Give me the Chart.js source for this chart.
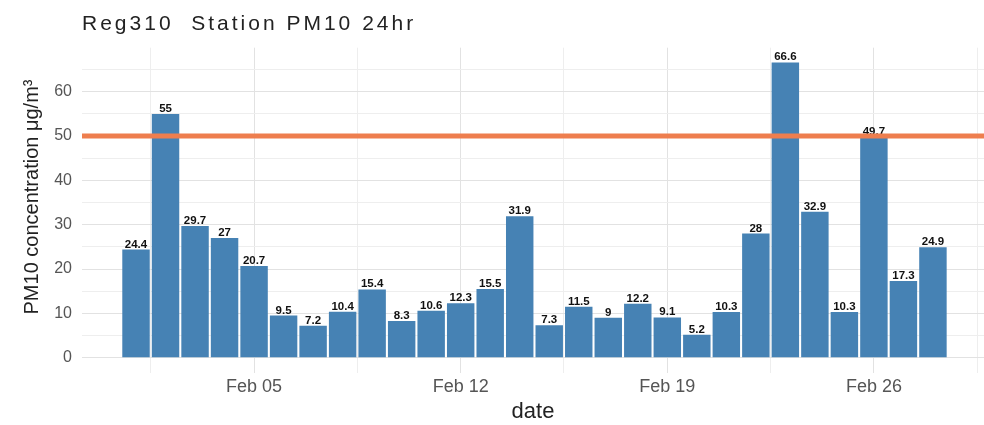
<!DOCTYPE html>
<html>
<head>
<meta charset="utf-8">
<script src="https://cdn.jsdelivr.net/npm/chart.js@4.4.1/dist/chart.umd.min.js"></script>
<style>
  html, body { margin: 0; padding: 0; background: #fff; }
  #wrap { width: 984px; height: 425px; position: relative; }
</style>
</head>
<body>
<div id="wrap"><canvas id="pm10Chart"></canvas></div>
<script>
// February, one bar per day
const days = [1, 2, 3, 4, 5, 6, 7, 8, 9, 10, 11, 12, 13, 14,
              15, 16, 17, 18, 19, 20, 21, 22, 23, 24, 25, 26, 27, 28];
const pm10 = [24.4, 55, 29.7, 27, 20.7, 9.5, 7.2, 10.4, 15.4, 8.3, 10.6, 12.3, 15.5, 31.9,
              7.3, 11.5, 9, 12.2, 9.1, 5.2, 10.3, 28, 66.6, 32.9, 10.3, 49.7, 17.3, 24.9];
const limitValue = 50;

const tickDays = [5, 12, 19, 26];
const tickLabels = ['Feb 05', 'Feb 12', 'Feb 19', 'Feb 26'];
const yTicks = [0, 5, 10, 15, 20, 25, 30, 35, 40, 45, 50, 55, 60, 65];
const yLabelEvery = 10;

const chartTitle = 'Reg310  Station PM10 24hr';
const yTitle = 'PM10 concentration \u03bcg/m\u00b3';
const xTitle = 'date';

const FONT = "'Liberation Sans', Arial, sans-serif";
Chart.defaults.font.family = FONT;

// minor grid halfway between the labelled days, like ggplot
const xGrid = [];
tickDays.forEach((d) => { xGrid.push(d - 3.5); xGrid.push(d); });
xGrid.push(tickDays[tickDays.length - 1] + 3.5);

const X_MIN = -0.83, X_MAX = 29.73;
const Y_MIN = -3.33, Y_MAX = 69.93;

const barLabels = {
  id: 'barLabels',
  afterDatasetDraw(chart, args) {
    if (args.index !== 0) return;
    const ctx = chart.ctx;
    ctx.save();
    ctx.font = 'bold 11.5px ' + FONT;
    ctx.fillStyle = '#111';
    ctx.textAlign = 'center';
    ctx.textBaseline = 'alphabetic';
    args.meta.data.forEach((bar, i) => {
      ctx.fillText(String(pm10[i]), bar.x, bar.y - 2);
    });
    ctx.restore();
  }
};

const titles = {
  id: 'titles',
  afterDraw(chart) {
    const ctx = chart.ctx;
    ctx.save();
    ctx.fillStyle = '#222';
    ctx.font = '21px ' + FONT;
    ctx.textAlign = 'left';
    ctx.textBaseline = 'alphabetic';
    if ('letterSpacing' in ctx) ctx.letterSpacing = '3px';
    ctx.fillText(chartTitle, 82, 30);
    if ('letterSpacing' in ctx) ctx.letterSpacing = '0px';

    ctx.translate(32, 197);
    ctx.rotate(-Math.PI / 2);
    ctx.font = '20px ' + FONT;
    ctx.textAlign = 'center';
    ctx.textBaseline = 'middle';
    ctx.fillText(yTitle, 0, 0);
    ctx.restore();
  }
};

const chart = new Chart(document.getElementById('pm10Chart'), {
  type: 'bar',
  data: {
    datasets: [
      {
        type: 'bar',
        label: 'PM10',
        data: days.map((d, i) => ({ x: d, y: pm10[i] })),
        backgroundColor: '#4682B4',
        borderWidth: 0,
        barPercentage: 0.93,
        categoryPercentage: 1,
        order: 2
      },
      {
        type: 'line',
        label: 'limit',
        data: [{ x: X_MIN, y: limitValue }, { x: X_MAX, y: limitValue }],
        borderColor: '#EE7E4E',
        borderWidth: 5,
        pointRadius: 0,
        fill: false,
        order: 1
      }
    ]
  },
  options: {
    responsive: true,
    maintainAspectRatio: false,
    animation: false,
    layout: { padding: { top: 47.7, left: 0, right: 0, bottom: 0 } },
    plugins: {
      legend: { display: false },
      tooltip: { enabled: false },
      title: { display: false, text: chartTitle }
    },
    scales: {
      x: {
        type: 'linear',
        min: X_MIN,
        max: X_MAX,
        offset: false,
        afterBuildTicks: (scale) => { scale.ticks = xGrid.map((v) => ({ value: v })); },
        afterFit: (scale) => { scale.height = 52.5; },
        ticks: {
          autoSkip: false,
          maxRotation: 0,
          padding: 4,
          color: '#555',
          font: { size: 18 },
          callback: (v) => {
            const k = tickDays.indexOf(v);
            return k >= 0 ? tickLabels[k] : '';
          }
        },
        grid: {
          offset: false,
          drawTicks: false,
          color: (c) => (c.tick && tickDays.indexOf(c.tick.value) >= 0 ? '#e2e2e2' : '#eeeeee'),
          lineWidth: 1
        },
        border: { display: false },
        title: {
          display: true,
          text: xTitle,
          color: '#222',
          font: { size: 22 },
          padding: { top: 0, bottom: 0 }
        }
      },
      y: {
        min: Y_MIN,
        max: Y_MAX,
        afterBuildTicks: (scale) => { scale.ticks = yTicks.map((v) => ({ value: v })); },
        afterFit: (scale) => { scale.width = 82; },
        ticks: {
          padding: 10,
          color: '#555',
          font: { size: 16 },
          callback: (v) => (v % yLabelEvery === 0 ? String(v) : '')
        },
        grid: {
          drawTicks: false,
          color: (c) => (c.tick && c.tick.value % yLabelEvery === 0 ? '#e2e2e2' : '#eeeeee'),
          lineWidth: 1
        },
        border: { display: false },
        title: { display: false, text: yTitle }
      }
    }
  },
  plugins: [barLabels, titles]
});
</script>
</body>
</html>
